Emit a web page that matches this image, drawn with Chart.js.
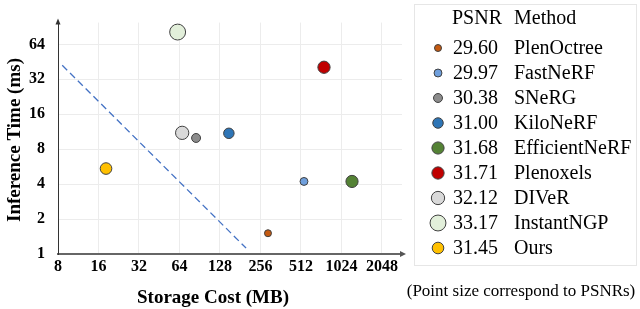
<!DOCTYPE html>
<html>
<head>
<meta charset="utf-8">
<script src="https://cdn.jsdelivr.net/npm/chart.js@4.4.1/dist/chart.umd.min.js"></script>
<style>
  html, body { margin: 0; padding: 0; background: #fff; }
  #chart { display: block; }
</style>
</head>
<body>
<canvas id="chart" width="640" height="309"></canvas>
<script>
// values
const methods = ['PlenOctree', 'FastNeRF', 'SNeRG', 'KiloNeRF', 'EfficientNeRF', 'Plenoxels', 'DIVeR', 'InstantNGP', 'Ours']
const psnr = [29.60, 29.97, 30.38, 31.00, 31.68, 31.71, 32.12, 33.17, 31.45]
const storageMB = [291, 539, 85, 149, 1226, 759, 67, 62, 18.2]
const inferenceMs = [1.51, 4.22, 10.0, 10.97, 4.22, 40.7, 11.07, 81.8, 5.45]
const trendStorage = [8.6, 200]
const trendTime = [42.3, 1.125]
const xTicks = [8, 16, 32, 64, 128, 256, 512, 1024, 2048]
const yTicks = [1, 2, 4, 8, 16, 32, 64]

const colors = ['#c55a11', '#6f9fdc', '#8c8c8c', '#2e75b6', '#548235', '#c00000', '#d9d9d9', '#e2efda', '#ffc000']

const SERIF = '"Liberation Serif", "Times New Roman", serif'
// point size follows PSNR
const radiusOf = p => 3.5 + (p - 29.6) * 1.25

const points = methods.map((m, i) => ({ x: storageMB[i], y: inferenceMs[i] }))
const trend = trendStorage.map((s, i) => ({ x: s, y: trendTime[i] }))

const extras = {
    id: 'extras',
    afterDraw(chart) {
        const ctx = chart.ctx
        const a = chart.chartArea
        ctx.save()
        // axis arrows
        ctx.fillStyle = '#333'
        ctx.beginPath()
        ctx.moveTo(a.left, a.top - 4)
        ctx.lineTo(a.left - 2.5, a.top + 2)
        ctx.lineTo(a.left + 2.5, a.top + 2)
        ctx.closePath()
        ctx.fill()
        ctx.fillStyle = '#555'
        ctx.beginPath()
        ctx.moveTo(a.right + 4, a.bottom)
        ctx.lineTo(a.right - 2, a.bottom - 3)
        ctx.lineTo(a.right - 2, a.bottom + 3)
        ctx.closePath()
        ctx.fill()

        // axis titles
        ctx.fillStyle = '#000'
        ctx.font = 'bold 19px ' + SERIF
        ctx.textAlign = 'center'
        ctx.textBaseline = 'middle'
        ctx.fillText('Storage Cost (MB)', 213, 298)
        ctx.save()
        ctx.translate(15, 140)
        ctx.rotate(-Math.PI / 2)
        ctx.fillText('Inference Time (ms)', 0, 0)
        ctx.restore()

        // legend box
        ctx.strokeStyle = '#e6e6e6'
        ctx.lineWidth = 1
        ctx.strokeRect(414.5, 4.5, 222, 261)
        ctx.font = '20px ' + SERIF
        ctx.textAlign = 'left'
        ctx.fillText('PSNR', 452, 19)
        ctx.fillText('Method', 514, 19)
        methods.forEach((m, i) => {
            const y = 48 + i * 25
            ctx.beginPath()
            ctx.arc(438, y, radiusOf(psnr[i]), 0, Math.PI * 2)
            ctx.fillStyle = colors[i]
            ctx.fill()
            ctx.strokeStyle = '#404040'
            ctx.lineWidth = 1
            ctx.stroke()
            ctx.fillStyle = '#000'
            ctx.fillText(psnr[i].toFixed(2), 453, y + 1)
            ctx.fillText(m, 514, y + 1)
        })
        ctx.font = '17px ' + SERIF
        ctx.textAlign = 'center'
        ctx.fillText('(Point size correspond to PSNRs)', 521, 292)
        ctx.restore()
    }
}

const tickFont = { family: SERIF, size: 16, weight: 'bold' }

new Chart(document.getElementById('chart'), {
    type: 'scatter',
    data: {
        datasets: [{
            label: 'trend',
            type: 'line',
            data: trend,
            borderColor: '#4472c4',
            borderWidth: 1.3,
            borderDash: [7, 4],
            pointRadius: 0,
            fill: false,
            order: 2
        }, {
            label: 'methods',
            data: points,
            backgroundColor: colors,
            borderColor: '#404040',
            borderWidth: 1,
            pointRadius: psnr.map(radiusOf),
            order: 1
        }]
    },
    options: {
        responsive: false,
        animation: false,
        devicePixelRatio: 1,
        layout: { padding: { left: 0, right: 238, top: 21, bottom: 0 } },
        plugins: { legend: { display: false }, tooltip: { enabled: false } },
        scales: {
            x: {
                type: 'logarithmic',
                min: 8,
                max: 2885,
                afterBuildTicks: s => { s.ticks = xTicks.map(v => ({ value: v })) },
                afterFit: s => { s.height = 55 },
                ticks: { callback: v => String(v), font: tickFont, color: '#000', padding: 3, maxRotation: 0, autoSkip: false },
                grid: { color: '#ececec', drawTicks: false },
                border: { color: '#666', width: 2 }
            },
            y: {
                type: 'logarithmic',
                min: 1,
                max: 98.7,
                afterBuildTicks: s => { s.ticks = yTicks.map(v => ({ value: v })) },
                afterFit: s => { s.width = 58 },
                ticks: { callback: v => String(v), font: tickFont, color: '#000', padding: 13, autoSkip: false },
                grid: { color: '#ececec', drawTicks: false },
                border: { color: '#333', width: 1 }
            }
        }
    },
    plugins: [extras]
})
</script>
</body>
</html>
